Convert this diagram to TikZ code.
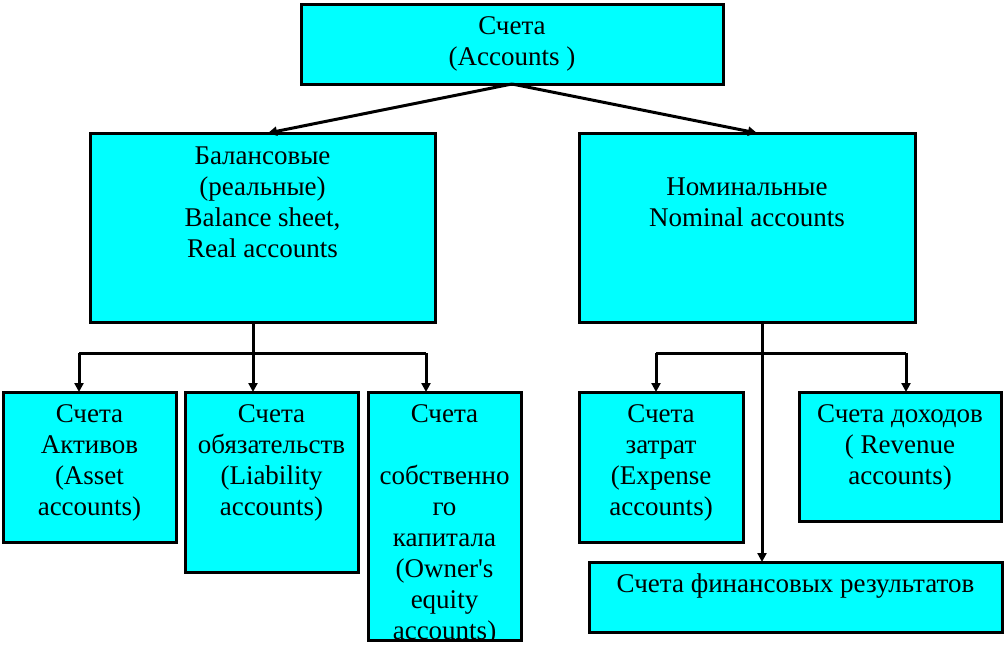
\documentclass[tikz,border=0pt]{standalone}
\usepackage{fontspec}
\setmainfont{Liberation Serif}
\newfontfamily\tnrplain{Liberation Serif}
\usetikzlibrary{arrows.meta,calc}
\definecolor{aqua}{RGB}{0,255,255}
\tikzset{
  box/.style={draw=black, line width=3pt, fill=aqua, rectangle, inner sep=0pt, outer sep=0pt},
  lbl/.style={anchor=base, inner sep=0pt, outer sep=0pt, font=\rmfamily\fontsize{27}{31}\selectfont},
  conn/.style={line width=3pt},
  arr/.style={conn, -{Triangle[length=9pt,width=9pt]}}
}
\newcommand{\ctext}[1]{\parbox[t]{420pt}{\centering #1}}
\begin{document}
\begin{tikzpicture}[x=1pt,y=-1pt]
\useasboundingbox (0,0) rectangle (1006,646);
% boxes
\node[box, minimum width=422pt, minimum height=80pt] (top) at (512,44) {};
\node[box, minimum width=345pt, minimum height=189pt] (bal) at (262.5,227.5) {};
\node[box, minimum width=336pt, minimum height=189pt] (nom) at (747,227.5) {};
\node[box, minimum width=173pt, minimum height=150pt] (asset) at (89.5,467) {};
\node[box, minimum width=173pt, minimum height=180pt] (liab) at (271.5,482) {};
\node[box, minimum width=153pt, minimum height=248pt] (own) at (444.5,516) {};
\node[box, minimum width=164pt, minimum height=150pt] (exp) at (661,467) {};
\node[box, minimum width=202pt, minimum height=129pt] (rev) at (900,456.5) {};
\node[box, minimum width=413pt, minimum height=70pt] (fin) at (795.5,597) {};
% texts
\node[lbl] (ttop) at (512,34) {\ctext{Счета\\(Accounts )}};
\node[lbl] (tbal) at (262.5,164) {\ctext{Балансовые\\(реальные)\\Balance sheet,\\Real accounts}};
\node[lbl] (tnom) at (747,164) {\ctext{\mbox{}\\Номинальные\\Nominal accounts}};
\node[lbl] (tasset) at (89.5,422) {\ctext{Счета\\Активов\\(Asset\\accounts)}};
\node[lbl] (tliab) at (271.5,422) {\ctext{Счета\\обязательств\\(Liability\\accounts)}};
\begin{scope}
\clip (own.north west) rectangle ([yshift=-1.5pt]own.south east);
\node[lbl] (town) at (444.5,422) {\ctext{Счета\\\mbox{}\\собственно\\го\\капитала\\(Owner{\tnrplain'}s\\equity\\accounts)}};
\end{scope}
\draw[line width=3pt] (own.north west) rectangle (own.south east);
\node[lbl] (texp) at (661,422) {\ctext{Счета\\затрат\\(Expense\\accounts)}};
\node[lbl] (trev) at (900,422) {\ctext{Счета доходов\\( Revenue\\accounts)}};
\node[lbl] (tfin) at (795.5,592) {\ctext{Счета финансовых результатов}};
% connectors from top
\draw[arr] (top.south) -- ([xshift=5.5pt]bal.north);
\draw[arr] (top.south) -- ([xshift=10pt]nom.north);
% balance branches
\coordinate (b1) at (79,353);
\coordinate (b2) at (253,353);
\coordinate (b3) at (426,353);
\draw[conn] (bal.south -| b2) -- (b2);
\draw[conn] (b1) -- (b3);
\draw[arr] (b1) -- (b1 |- asset.north);
\draw[arr] (b2) -- (b2 |- liab.north);
\draw[arr] (b3) -- (b3 |- own.north);
% nominal branches
\coordinate (n0) at (762,353);
\coordinate (n1) at (656,353);
\coordinate (n2) at (906,353);
\draw[arr] (nom.south -| n0) -- (n0 |- fin.north);
\draw[conn] (n1) -- (n2);
\draw[arr] (n1) -- (n1 |- exp.north);
\draw[arr] (n2) -- (n2 |- rev.north);
\end{tikzpicture}
\end{document}
